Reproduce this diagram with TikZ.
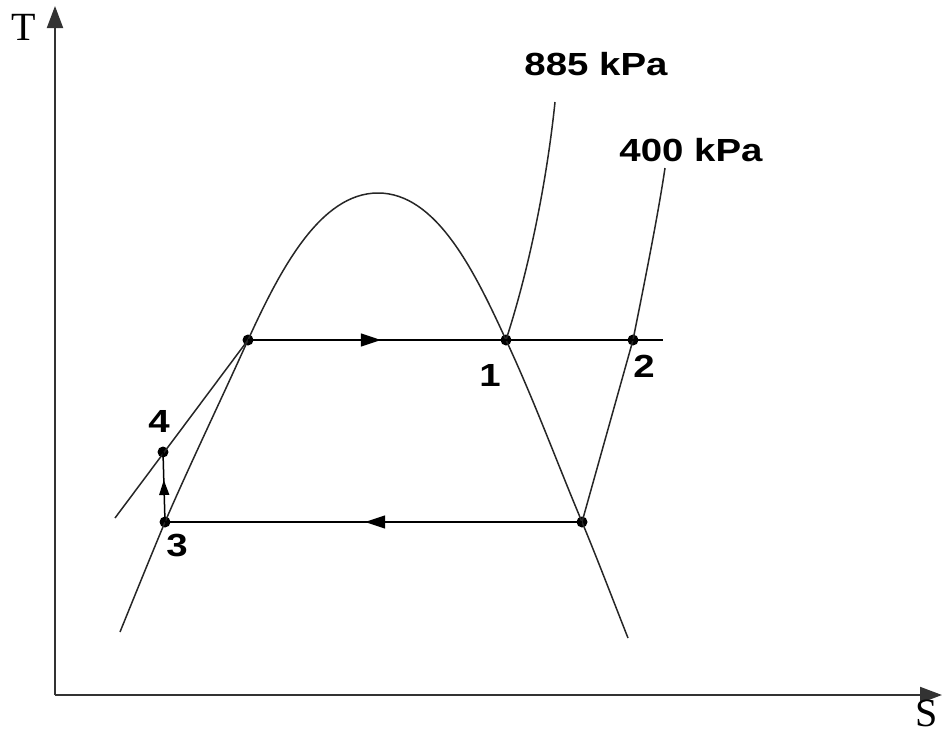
\documentclass[tikz,border=0pt]{standalone}
\usepackage{fontspec}
\setmainfont{Liberation Serif}
\newfontfamily\lblfont[FakeStretch=1.2]{Liberation Sans}
\usetikzlibrary{arrows.meta}
\usetikzlibrary{decorations.markings}

\begin{document}
\begin{tikzpicture}[x=1pt,y=-1pt]
% % Styles
 \tikzset{
 	dot/.style={circle,fill=black,inner sep=0pt,minimum size=11pt},
 	curve/.style={line width=1.5pt,black!85},
 	axis/.style={line width=2pt,black!80,-{Triangle[length=22pt,width=16pt]}},
 	lbl/.style={font=\lblfont\bfseries\fontsize{32}{32}\selectfont},
 	axlbl/.style={font=\fontsize{40}{40}\selectfont,inner sep=1pt},
 	midarrow/.style={postaction={decorate},decoration={markings,
 		mark=at position #1 with {\arrow{Triangle[length=20pt,width=13pt]}}}},
 	smallarrow/.style={postaction={decorate},decoration={markings,
 		mark=at position #1 with {\arrow{Triangle[length=15pt,width=10pt]}}}}
 }
 \useasboundingbox (0,0) rectangle (942,737);
% % Axes
 \coordinate (O) at (55,695);
 \coordinate (Ttip) at (55,6);
 \coordinate (Stip) at (942,695);
 \draw[axis] (O) -- (Ttip);
 \draw[axis] (O) -- (Stip);
 \node[axlbl] (T) at (24,27) {T};
 \node[axlbl,anchor=north east] (S) at (939,699) {S};
% % State points
 \node[dot] (pf) at (248,340) {};
 \node[dot] (p1) at (506,340) {};
 \node[dot] (p2) at (633,340) {};
 \node[dot] (pg) at (582,522) {};
 \node[dot] (p3) at (165,522) {};
 \node[dot] (p4) at (163,452) {};
 \coordinate (hiend) at (663,340);
 \coordinate (tanlo) at (115,518);
 \coordinate (a885) at (555,102);
 \coordinate (a400) at (665,168);
 \coordinate (top) at (378,193);
% dome
 \draw[curve] (120,632) .. controls (135,595) and (150,558) .. (p3.center)
 	.. controls (191,462) and (221,400) .. (pf.center)
 	.. controls (280,270) and (320,193) .. (top)
 	.. controls (436,193) and (474,270) .. (p1.center)
 	.. controls (534,400) and (556,460) .. (pg.center)
 	.. controls (597,558) and (613,600) .. (628,638);
% pressure lines
 \draw[curve] (p1.center) .. controls (532,260) and (548,170) .. (a885);
 \draw[curve] (pg.center) -- (p2.center) .. controls (645,280) and (658,215) .. (a400);
 \draw[curve] (tanlo) -- (pf.center);
% cycle
 \draw[line width=1.5pt,midarrow=0.32] (pf.center) -- (hiend);
 \draw[line width=1.5pt,midarrow=0.52] (pg.center) -- (p3.center);
 \draw[line width=1.5pt,smallarrow=0.6] (p3.center) -- (p4.center);
% labels
 \node[lbl] (l1) at (490,375) {1};
 \node[lbl] (l2) at (644,366) {2};
 \node[lbl] (l3) at (177,545) {3};
 \node[lbl] (l4) at (159,421) {4};
 \node[lbl] (l885) at (596,64) {885 kPa};
 \node[lbl] (l400) at (691,150) {400 kPa};
\end{tikzpicture}
\end{document}
